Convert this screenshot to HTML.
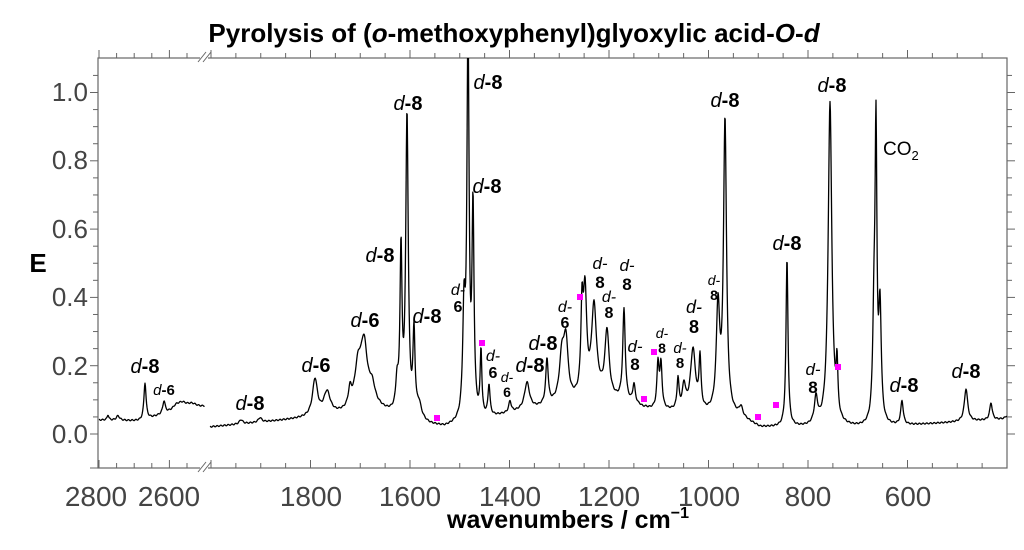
<!DOCTYPE html>
<html><head><meta charset="utf-8">
<style>
html,body{margin:0;padding:0;background:#fff;}
svg{display:block;font-family:"Liberation Sans",Arial,sans-serif;}
</style></head>
<body>
<svg id="s" width="1024" height="550" viewBox="0 0 1024 550" xmlns="http://www.w3.org/2000/svg">
<defs><clipPath id="c"><rect x="98" y="58" width="909" height="410"/></clipPath></defs>
<rect x="98" y="58" width="909" height="410" fill="#fff" stroke="#666" stroke-width="1.2"/>
<g id="ticks" stroke="#666" stroke-width="1"></g>
<g id="spec" clip-path="url(#c)"></g>
<g id="lab"></g>
<text x="514" y="42" text-anchor="middle" font-size="26" font-weight="bold">Pyrolysis of (<tspan font-style="italic">o</tspan>-methoxyphenyl)glyoxylic acid-<tspan font-style="italic">O</tspan>-<tspan font-style="italic">d</tspan></text>
<text x="38" y="272" text-anchor="middle" font-size="26" font-weight="bold">E</text>
<text x="568" y="528" text-anchor="middle" font-size="25" font-weight="bold">wavenumbers / cm<tspan font-size="16" dy="-10">−1</tspan></text>
<g font-size="26" fill="#444" text-anchor="end">
<text x="88" y="443">0.0</text><text x="88" y="375">0.2</text><text x="88" y="306">0.4</text>
<text x="88" y="238">0.6</text><text x="88" y="169">0.8</text><text x="88" y="101">1.0</text>
</g>
<g font-size="28" fill="#444" text-anchor="middle">
<text x="96" y="506">2800</text><text x="169" y="506">2600</text>
<text x="311" y="506">1800</text><text x="410" y="506">1600</text><text x="510" y="506">1400</text>
<text x="609" y="506">1200</text><text x="709" y="506">1000</text><text x="808" y="506">800</text><text x="908" y="506">600</text>
</g>
<rect x="200" y="459" width="8" height="12" fill="#fff"/>
<rect x="200" y="54" width="8" height="8" fill="#fff"/>
<g stroke="#666" stroke-width="1"><line x1="198" y1="62" x2="206" y2="52"/><line x1="203" y1="62" x2="211" y2="52"/>
<line x1="198" y1="472" x2="206" y2="462"/><line x1="203" y1="472" x2="211" y2="462"/></g>
<g fill="#ff00ff">
<rect x="434" y="415" width="6" height="6"/><rect x="479" y="340" width="6" height="6"/><rect x="577" y="294" width="6" height="6"/>
<rect x="641" y="396" width="6" height="6"/><rect x="651" y="349" width="6" height="6"/><rect x="755" y="414" width="6" height="6"/>
<rect x="773" y="402" width="6" height="6"/><rect x="835" y="364" width="6" height="6"/>
</g>
<text x="883" y="155" font-size="19">CO<tspan font-size="13" dy="5">2</tspan></text>
</svg>
<script>
var NS="http://www.w3.org/2000/svg",s=document.getElementById('s');
function el(p,t,a,txt){var e=document.createElementNS(NS,t);for(var k in a)e.setAttribute(k,a[k]);if(txt!=null)e.textContent=txt;p.appendChild(e);return e;}
var tk=document.getElementById('ticks');
for(var v=0;v<=1.1;v+=0.05){var y=434-v*341.5;var maj=Math.abs(v*5-Math.round(v*5))<1e-6;var L=maj?8:5;
el(tk,'line',{x1:98-L,y1:y,x2:98,y2:y});el(tk,'line',{x1:1007,y1:y,x2:1007+L,y2:y});}
el(tk,'line',{x1:90,y1:468,x2:98,y2:468});
function xt(x,maj){var L=maj?8:5;el(tk,'line',{x1:x,y1:58-L,x2:x,y2:58});el(tk,'line',{x1:x,y1:468-L,x2:x,y2:468});}
for(var w=2800;w>=2500;w-=50){var x=99+(2800-w)*0.352;if(x<203)xt(x,w%200==0);}
for(var w=2000;w>=400;w-=50){var x=410+(1600-w)*0.4975;if(x>210&&x<1007)xt(x,w%200==0);}
function lin(pts,x){for(var i=0;i<pts.length-1;i++){if(x<=pts[i+1][0]){var t=(x-pts[i][0])/(pts[i+1][0]-pts[i][0]);return pts[i][1]+t*(pts[i+1][1]-pts[i][1]);}}return pts[pts.length-1][1];}
function seg(x0,x1,base,pk){var d='';for(var x=x0;x<=x1;x+=0.4){var b=lin(base,x),y=b;for(var i=0;i<pk.length;i++){var p=pk[i],h=lin(base,p[0])-p[1],u=(x-p[0])/p[2];y-=h/(1+u*u);}
y+=Math.sin(x*1.7)*0.6;d+=(d?'L':'M')+x.toFixed(1)+' '+y.toFixed(1);}
el(document.getElementById('spec'),'path',{d:d,fill:'none',stroke:'#000','stroke-width':1.3,'stroke-linejoin':'round'});}
seg(99,205,[[99,420],[140,421],[170,413],[205,407]],[[108,415,1],[118,416,2],[145,383,1.3],[164,402,1.5],[182,404,6],[192,405,6],[176,408,4]]);
seg(210,1007,[[210,427],[300,419],[340,415],[380,412],[430,426],[445,428],[520,412],[560,405],[600,398],[620,402],[650,410],[740,418],[760,428],[860,428],[900,426],[1007,419]],
[[241,420,2],[260,418,2],[315,381,3],[327,394,4],[350,397,2],[364,352,4],[358,374,4],[372,392,4],[397,389,1.5],[401,258,1.2],[407,120,1.5],[414,340,1.2],[419,409,3],
[464,322,1.5],[468,40,1.3],[473,218,1.2],[481,356,1],[489,388,1.2],[510,403,1.5],[527,384,3],[547,362,1.5],[562,358,3],[566,350,2.5],[582,322,1.3],[585,300,2],[594,310,3],[607,334,2.5],[624,312,1.5],[634,387,1.5],[643,409,1],[658,366,1.3],[661,368,1.3],[678,382,1.2],[684,389,2],[693,352,3],[700,364,1.2],[718,312,2],[725,124,1.8],[741,410,2],
[787,260,1.2],[816,402,2],[830,104,2.2],[837,378,1],[874,330,1.5],[876,150,1.1],[880,315,1.5],[902,402,1.5],[966,389,2],[991,403,1.5],[1007,416,2]]);
var lab=document.getElementById('lab');
function dl(x,y,n,fs){var t=el(lab,'text',{x:x,y:y,'text-anchor':'middle','font-size':fs});
el(t,'tspan',{'font-style':'italic'},'d');el(t,'tspan',{'font-weight':'bold'},'-'+n);}
function st(x,y1,y2,n,fs){el(lab,'text',{x:x,y:y1,'text-anchor':'middle','font-size':fs,'font-style':'italic'},'d-');
el(lab,'text',{x:x,y:y2,'text-anchor':'middle','font-size':fs,'font-weight':'bold'},n);}
[[145,373,8,20],[164,395,6,15],[250,410,8,20],[316,372,6,20],[365,327,6,20],[380,262,8,20],[408,110,8,20],[427,323,8,20],
[488,89,8,20],[487,193,8,20],[530,372,8,20],[543,350,8,20],[725,107,8,20],[787,250,8,20],[832,92,8,20],[904,392,8,20],[966,378,8,20]].forEach(function(a){dl(a[0],a[1],a[2],a[3]);});
[[458,295,312,6,16],[493,361,378,6,16],[507,382,397,6,14],[565,312,328,6,16],[600,269,288,8,17],[627,271,290,8,17],[609,302,318,8,16],[635,352,370,8,17],[662,338,353,8,14],[680,353,368,8,15],[694,313,333,8,18],[714,285,300,8,14],[813,375,393,8,17]].forEach(function(a){st(a[0],a[1],a[2],a[3],a[4]);});
</script>
</body></html>
